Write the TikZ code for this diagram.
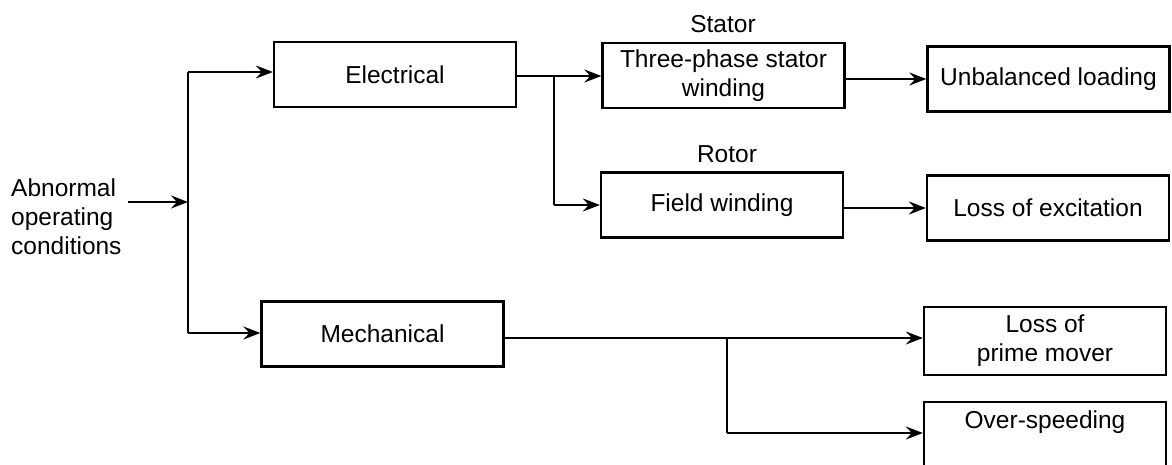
\documentclass[tikz,border=0pt]{standalone}
\usepackage{fontspec}
\setmainfont{Liberation Sans}
\usetikzlibrary{arrows.meta}
\begin{document}
\begin{tikzpicture}[x=1pt,y=-1pt,
  every node/.style={font=\fontsize{24.5}{29}\selectfont},
  blk/.style={draw, line width=2.3pt, minimum width=242pt, minimum height=65pt, inner sep=0pt, align=center},
  lbl/.style={inner sep=0pt},
  conn/.style={line width=2.3pt},
  arr/.style={conn, -{Stealth[length=17pt,width=13pt,inset=6pt]}}]
\useasboundingbox (0,0) rectangle (1172,465);
% blocks
\node[blk] (elec) at (395,74.5) {Electrical};
\node[blk] (mech) at (382.5,334) {Mechanical};
\node[blk] (three) at (723.5,75.5) {Three-phase stator\\winding};
\node[blk] (field) at (722,205) {Field winding};
\node[blk] (unbal) at (1048.5,79) {Unbalanced loading};
\node[blk] (lossex) at (1048,208) {Loss of excitation};
\node[blk, minimum height=68pt] (lossprime) at (1045,341) {Loss of\\prime mover};
\node[blk, minimum height=64pt, text depth=28pt] (over) at (1045,434) {Over-speeding};
% labels
\node[lbl, align=left, anchor=west] (abn) at (11,217) {Abnormal\\operating\\conditions};
\node[lbl] (stator) at (723,24) {Stator};
\node[lbl] (rotor) at (727,154) {Rotor};
% connector points
\coordinate (a0) at (128,202);
\coordinate (a1) at (188,202);
\coordinate (jt) at (188,72);
\coordinate (jb) at (188,333);
\coordinate (je) at (554,76);
\coordinate (jf) at (554,205);
\coordinate (jm) at (727,338);
\coordinate (jo) at (727,433);
% connectors
\draw[arr] (a0) -- (a1);
\draw[conn] (jt) -- (jb);
\draw[arr] (jt) -- (jt -| elec.west);
\draw[arr] (jb) -- (jb -| mech.west);
\draw[arr] (elec.east |- je) -- (je -| three.west);
\draw[conn] (je) -- (jf);
\draw[arr] (jf) -- (jf -| field.west);
\draw[arr] (three.east |- unbal.west) -- (unbal.west);
\draw[arr] (field.east |- lossex.west) -- (lossex.west);
\draw[arr] (mech.east |- jm) -- (jm -| lossprime.west);
\draw[conn] (jm) -- (jo);
\draw[arr] (jo) -- (jo -| over.west);
\end{tikzpicture}
\end{document}
